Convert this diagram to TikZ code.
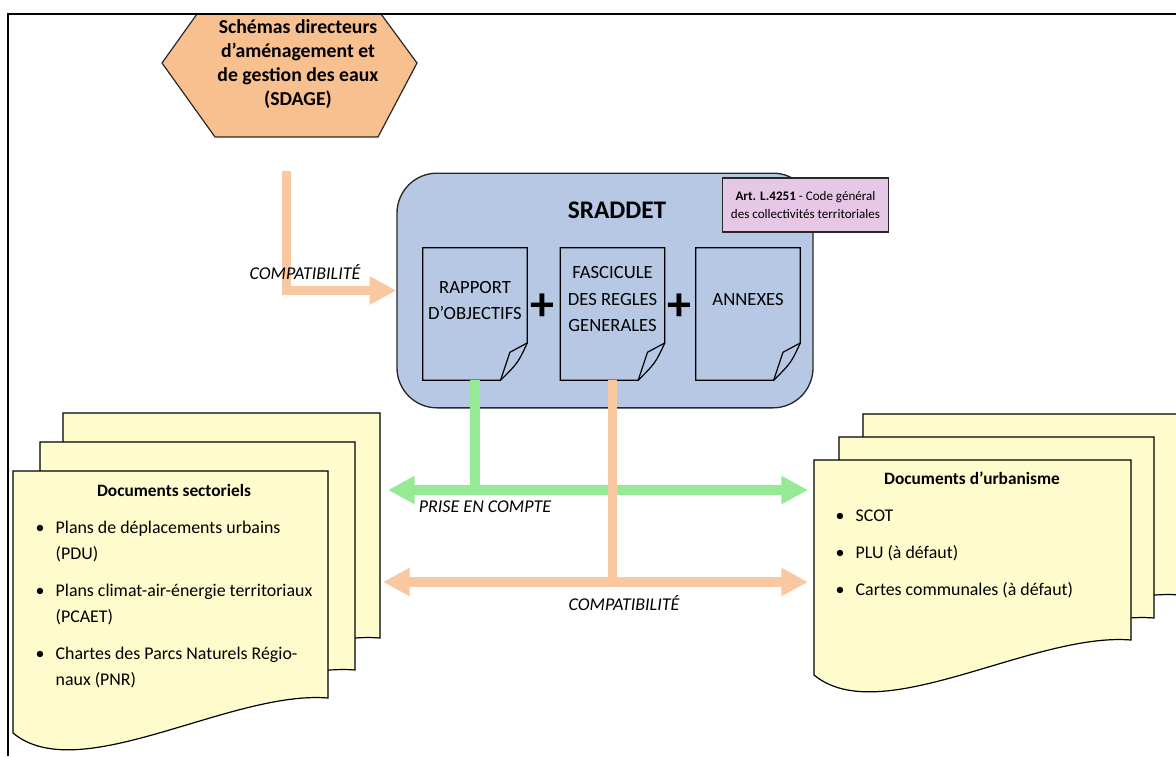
\documentclass[tikz,border=0pt]{standalone}
\usepackage{fontspec}
\setmainfont{Carlito}
\usetikzlibrary{arrows.meta,positioning}
\definecolor{hexorange}{RGB}{248,192,142}
\definecolor{arroworange}{RGB}{250,200,160}
\definecolor{arrowgreen}{RGB}{150,234,150}
\definecolor{sradblue}{RGB}{182,200,228}
\definecolor{artpink}{RGB}{230,200,230}
\definecolor{docyellow}{RGB}{254,252,204}
\definecolor{linegray}{RGB}{40,40,40}
\begin{document}
\begin{tikzpicture}[x=0.75pt, y=-0.75pt, style={
    hexstyle/.style={fill=hexorange, draw=linegray, line width=0.9pt},
    boxstyle/.style={
      rectangle, rounded corners=30pt,
      fill=sradblue, draw=linegray, line width=1pt,
      minimum width=312pt, minimum height=176pt,
    },
    pagebox/.style={
      rectangle, inner sep=0pt,
      minimum width=78pt, minimum height=99pt,
    },
    sheetline/.style={fill=sradblue, draw=black, line width=0.9pt},
    pagetext/.style={align=center, font=\fontsize{14}{19.8}\selectfont},
    sheetstyle/.style={fill=docyellow, draw=black, line width=0.9pt},
    listtext/.style={align=left, font=\fontsize{13.4}{19.5}\selectfont},
    titletext/.style={font=\fontsize{13}{15}\selectfont\bfseries},
    labelstyle/.style={font=\fontsize{13.5}{15}\selectfont\itshape},
    plustext/.style={font=\fontsize{36}{36}\selectfont\bfseries},
    myarrow/.style={line width=7.5pt, {Triangle[length=20pt,width=20pt]}-{Triangle[length=20pt,width=20pt]}},
    greenarrow/.style={myarrow, draw=arrowgreen},
    orangearrow/.style={myarrow, draw=arroworange},
    greenline/.style={line width=7.5pt, draw=arrowgreen},
    orangeline/.style={line width=6.75pt, draw=arroworange},
  }]
  \clip (0,0) rectangle (1176,756);

  % SDAGE
  \filldraw[hexstyle]
    (197,14) -- (381,14) -- (417,63) -- (378,137) -- (215,137) -- (162,63) -- cycle;
  \node[align=center, font=\fontsize{14.8}{18}\selectfont\bfseries] (sdage) at (298,64) {
    Schémas directeurs\\d’aménagement et\\de gestion des eaux\\(SDAGE)
  };

  % SRADDET
  \node[boxstyle] (sraddet) at (605,290.5) {};
  \node[font=\fontsize{19}{22}\selectfont\bfseries] (sraddettitle) at (617,210) {SRADDET};
  \node[fill=artpink, draw=linegray, line width=0.9pt, minimum width=125pt, minimum height=40.5pt,
    inner sep=1pt, align=center, font=\fontsize{9.8}{14.2}\selectfont] (art) at (805.5,205) {
    \textbf{Art. L.4251} - Code général\\des collectivités territoriales
  };

  \node[pagebox] (rapport) at (475,314) {};
  \node[pagebox, right=24.75pt of rapport] (fascicule) {};
  \node[pagebox, right=23.25pt of fascicule] (annexes) {};
  \foreach \n in {rapport, fascicule, annexes} {
    \draw[sheetline]
      (\n.north west) -- (\n.north east) -- ([yshift=28pt]\n.south east)
      .. controls ([xshift=-7pt,yshift=13pt]\n.south east) .. ([xshift=-20pt]\n.south east)
      -- (\n.south west) -- cycle;
    \draw[line width=0.9pt]
      ([xshift=-20pt]\n.south east) -- ([xshift=-13pt,yshift=21pt]\n.south east)
      .. controls ([xshift=-6pt,yshift=25pt]\n.south east) .. ([yshift=28pt]\n.south east);
  }
  \node[pagetext] (rapporttext) at ([yshift=10pt]rapport.center) {RAPPORT\\D’OBJECTIFS};
  \node[pagetext] (fasciculetext) at ([yshift=11pt]fascicule.center) {FASCICULE\\DES REGLES\\GENERALES};
  \node[pagetext] (annexestext) at ([yshift=10.5pt]annexes.center) {ANNEXES};
  \node[plustext] (plusa) at ([xshift=11.25pt,yshift=5pt]rapport.east) {+};
  \node[plustext] (plusb) at ([xshift=11.25pt,yshift=5pt]fascicule.east) {+};

  % document stacks
  \foreach \l/\t/\r/\b in {63/413/380/638, 40/442/355/670, 13/471/328/698,
      863/414/1180/595, 839/437/1154/618, 814/460/1131/640} {
    \filldraw[sheetstyle]
      (\l,\t) -- (\r,\t) -- (\r,\b)
      .. controls ({\r-0.31*(\r-\l)},{\b-8}) and ({\l+0.21*(\r-\l)},{\b+90}) .. (\l,{\b+35})
      -- cycle;
  }
  \node[titletext] (secttitle) at (174,490) {Documents sectoriels};
  \node[listtext, anchor=west] (sectlist) at (31,605) {
    \makebox[15pt][l]{\textbullet}Plans de déplacements urbains\\
    \hspace*{15pt}(PDU)\\[8.25pt]
    \makebox[15pt][l]{\textbullet}Plans climat-air-énergie territoriaux\\
    \hspace*{15pt}(PCAET)\\[8.25pt]
    \makebox[15pt][l]{\textbullet}Chartes des Parcs Naturels Régio-\\
    \hspace*{15pt}naux (PNR)
  };
  \node[titletext] (urbtitle) at (972,478) {Documents d’urbanisme};
  \node[listtext, anchor=west] (urblist) at (831,554) {
    \makebox[15pt][l]{\textbullet}SCOT\\[8.25pt]
    \makebox[15pt][l]{\textbullet}PLU (à défaut)\\[8.25pt]
    \makebox[15pt][l]{\textbullet}Cartes communales (à défaut)
  };

  % connectors
  \coordinate (sdagefoot) at (286,171);
  \draw[orangeline, -{Triangle[length=20pt,width=20pt]}] (sdagefoot) |- (sraddet.west);
  \node[labelstyle] (sdagelabel) at (305,272) {COMPATIBILITÉ};

  \coordinate (gleft) at (388,490);
  \coordinate (gright) at (808,490);
  \draw[greenline] (rapport.south) -- (rapport.south |- gleft);
  \draw[greenarrow] (gleft) -- (gright);
  \node[labelstyle] (priselabel) at (485,507) {PRISE EN COMPTE};

  \coordinate (oleft) at (383,582);
  \coordinate (oright) at (808,582);
  \draw[orangeline] (fascicule.south) -- (fascicule.south |- oleft);
  \draw[orangearrow] (oleft) -- (oright);
  \node[labelstyle] (compatlabel) at (624,603) {COMPATIBILITÉ};

  % frame
  \draw[line width=1.3pt, draw=black] (8,756) -- (8,14) -- (1176,14);
\end{tikzpicture}
\end{document}
